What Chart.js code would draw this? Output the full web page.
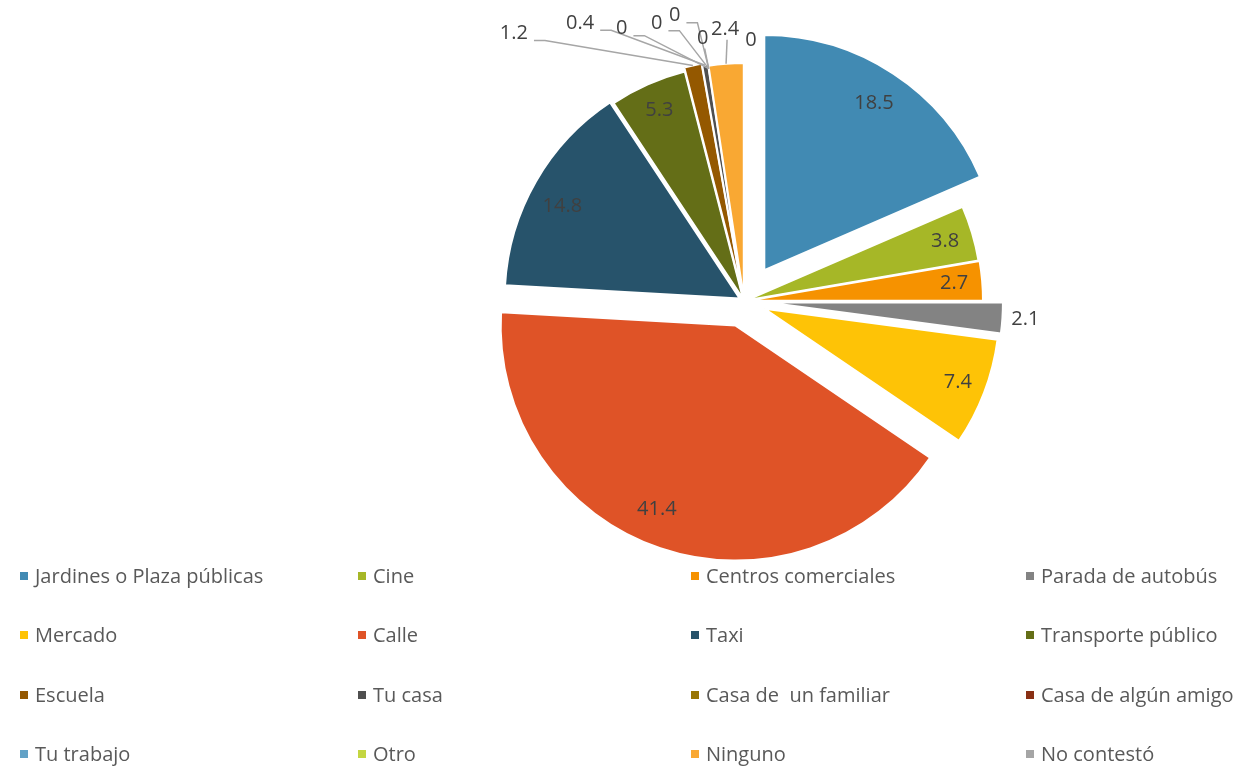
<!DOCTYPE html>
<html lang="es">
<head>
<meta charset="utf-8">
<title>Lugares</title>
<script src="https://cdn.jsdelivr.net/npm/chart.js@4.4.1/dist/chart.umd.min.js"></script>
<style>
    body { margin: 0; background: #fff; font-family: "Open Sans", sans-serif; }
    #wrap { position: relative; width: 1243px; height: 766px; }
    #grafico { position: absolute; left: 0; top: 0; }
    #legenda {
        position: absolute;
        left: 20px;
        top: 566px;
        display: grid;
        grid-template-columns: 338px 333px 335px auto;
        grid-auto-rows: 59.3px;
        font-size: 20px;
        color: #595959;
    }
    .voce { display: flex; align-items: center; height: 20px; line-height: 20px; white-space: pre; }
    .voce span.box { width: 8px; height: 8px; margin-right: 7px; flex: none; }
</style>
</head>
<body>
<div id="wrap">
    <canvas id="grafico" width="1243" height="766"></canvas>
    <div id="legenda"></div>
</div>
<script>
/* ============================================
   DATI
   ============================================ */
const CATEGORIE = [
    'Jardines o Plaza públicas', 'Cine', 'Centros comerciales', 'Parada de autobús',
    'Mercado', 'Calle', 'Taxi', 'Transporte público',
    'Escuela', 'Tu casa', 'Casa de  un familiar', 'Casa de algún amigo',
    'Tu trabajo', 'Otro', 'Ninguno', 'No contestó'
];
const VALORI = [18.5, 3.8, 2.7, 2.1, 7.4, 41.4, 14.8, 5.3, 1.2, 0.4, 0, 0, 0, 0, 2.4, 0];

// Colori delle fette (tema Office + varianti scure/chiare)
const COLORI = [
    '#418AB3', '#A6B727', '#F69200', '#838383',
    '#FEC306', '#DF5327', '#27536B', '#646E17',
    '#945800', '#4F4F4F', '#987504', '#893014',
    '#63A2C6', '#C4D641', '#F9A833', '#A5A5A5'
];

// Esplosione di ogni fetta in pixel (stile, non dati)
const ESPLOSIONE = [37, 3, 4, 24, 22, 26, 5, 2, 6, 4, 0, 0, 0, 0, 3, 0];

// Piccola correzione dell'angolo delle etichette interne (gradi)
const RUOTA_ETICHETTE = { 5: 4.5, 6: -2.5 };

// Etichette fuori dalla torta: spostamento dal bordo della fetta
const ETICHETTE_FUORI = {
    3:  { radiale: 23 },
    8:  { dx: -179, dy: -32 },
    9:  { dx: -125, dy: -42 },
    10: { dx: -87,  dy: -40 },
    11: { dx: -52,  dy: -45 },
    12: { dx: -34,  dy: -53 },
    13: { dx: -6,   dy: -30 },
    14: { dx: -1,   dy: -34 },
    15: { dx: 7,    dy: -26, senzaLinea: true }
};

const RAGGIO = 235;
const FONT_ETICHETTE = '20px "Open Sans"';

// ============================================
// PLUGIN: fette esplose + etichette
// ============================================
const pluginEsplosione = {
    id: 'esplosione',
    beforeDatasetDraw(chart, args) {
        const ctx = chart.ctx;
        args.meta.data.forEach((arc, i) => {
            const mid = (arc.startAngle + arc.endAngle) / 2;
            const d = ESPLOSIONE[i];
            ctx.save();
            ctx.translate(Math.cos(mid) * d, Math.sin(mid) * d);
            arc.draw(ctx, chart.chartArea);
            ctx.restore();
        });
        return false; // niente disegno standard
    }
};

const pluginEtichette = {
    id: 'etichette',
    afterDatasetsDraw(chart) {
        const ctx = chart.ctx;
        const meta = chart.getDatasetMeta(0);
        ctx.save();
        ctx.font = FONT_ETICHETTE;
        ctx.textAlign = 'center';
        ctx.textBaseline = 'middle';
        meta.data.forEach((arc, i) => {
            const v = VALORI[i];
            const testo = String(v);
            const mid = (arc.startAngle + arc.endAngle) / 2;
            const cos = Math.cos(mid), sin = Math.sin(mid);
            const esterno = RAGGIO + ESPLOSIONE[i];
            const fuori = ETICHETTE_FUORI[i];
            let x, y;
            if (!fuori) {
                // centro della fetta spostata + angolo corretto
                const cx = arc.x + cos * ESPLOSIONE[i];
                const cy = arc.y + sin * ESPLOSIONE[i];
                const a = mid + (RUOTA_ETICHETTE[i] || 0) * Math.PI / 180;
                const r = RAGGIO * (v >= 10 ? 0.85 : 0.88);
                x = cx + Math.cos(a) * r;
                y = cy + Math.sin(a) * r;
            } else if (fuori.radiale) {
                x = arc.x + cos * (esterno + fuori.radiale);
                y = arc.y + sin * (esterno + fuori.radiale);
            } else {
                const ax = arc.x + cos * esterno;
                const ay = arc.y + sin * esterno;
                x = ax + fuori.dx;
                y = ay + fuori.dy;
                if (!fuori.senzaLinea) {
                    const hw = ctx.measureText(testo).width / 2;
                    ctx.strokeStyle = '#A6A6A6';
                    ctx.lineWidth = 1.5;
                    ctx.beginPath();
                    if (fuori.dx < -20) {
                        // linea con gomito orizzontale
                        ctx.moveTo(x + hw + 6, y + 7);
                        ctx.lineTo(x + hw + 17, y + 7);
                    } else {
                        ctx.moveTo(x + 2, y + 10);
                    }
                    ctx.lineTo(ax, ay);
                    ctx.stroke();
                }
            }
            ctx.fillStyle = '#404040';
            ctx.fillText(testo, x, y);
        });
        ctx.restore();
    }
};

// ============================================
// GRAFICO
// ============================================
new Chart(document.getElementById('grafico'), {
    type: 'pie',
    data: {
        labels: CATEGORIE,
        datasets: [{
            data: VALORI,
            backgroundColor: COLORI,
            borderColor: '#ffffff',
            borderWidth: 2,
            radius: RAGGIO
        }]
    },
    options: {
        responsive: false,
        animation: false,
        events: [],
        layout: { padding: { left: 245, right: 0, top: 0, bottom: 164 } },
        plugins: {
            legend: { display: false },
            tooltip: { enabled: false }
        }
    },
    plugins: [pluginEsplosione, pluginEtichette]
});

// ============================================
// LEGENDA HTML (4 colonne)
// ============================================
const legenda = document.getElementById('legenda');
CATEGORIE.forEach((nome, i) => {
    const voce = document.createElement('div');
    voce.className = 'voce';
    const box = document.createElement('span');
    box.className = 'box';
    box.style.background = COLORI[i];
    voce.appendChild(box);
    voce.appendChild(document.createTextNode(nome));
    legenda.appendChild(voce);
});
</script>
</body>
</html>
